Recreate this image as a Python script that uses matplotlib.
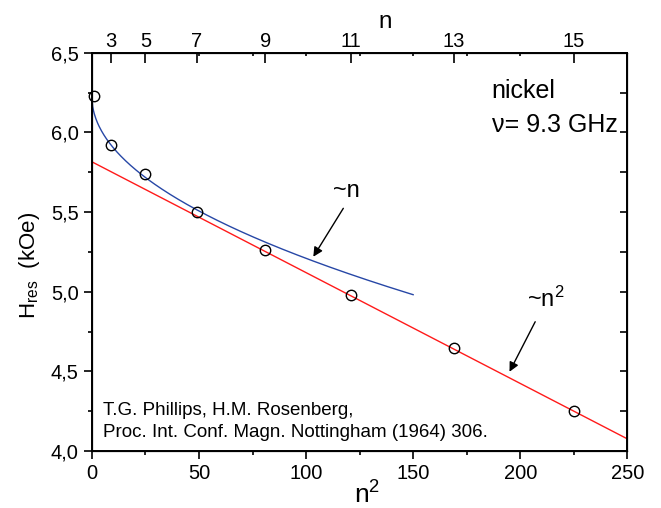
import matplotlib
matplotlib.use("Agg")
import matplotlib.pyplot as plt
import numpy as np

plt.rcParams["font.family"] = ["Liberation Sans", "DejaVu Sans"]
plt.rcParams["mathtext.fontset"] = "custom"
plt.rcParams["mathtext.rm"] = "Liberation Sans"
plt.rcParams["mathtext.it"] = "Liberation Sans"

# measured resonance field vs n^2 (odd n)
n_vals = [1, 3, 5, 7, 9, 11, 13, 15]
n_sq = [1, 9, 25, 49, 81, 121, 169, 225]
h_res = [6.23, 5.92, 5.74, 5.50, 5.26, 4.98, 4.65, 4.25]

# fit ~n^2 : H = a + b * n^2
lin_a, lin_b = 5.816, -0.006956
lin_x = [0, 250]
# fit ~n : H = a + b * n  (n = sqrt(n^2)), drawn up to n^2 = 150
sq_a, sq_b = 6.225, -0.1015
sq_xmax = 150

top_ticks_n = [3, 5, 7, 9, 11, 13, 15]

fig = plt.figure(figsize=(6.61, 5.08), dpi=100)
ax = fig.add_axes([0.139, 0.112, 0.810, 0.784])

lx = np.array(lin_x, dtype=float)
ax.plot(lx, lin_a + lin_b * lx, color="#ff1a1a", lw=1.0, zorder=2)
bx = np.linspace(0, sq_xmax, 400)
ax.plot(bx, sq_a + sq_b * np.sqrt(bx), color="#2747a6", lw=1.0, zorder=2)
ax.plot(n_sq, h_res, "o", mfc="none", mec="black", ms=7.5, mew=1.0,
        zorder=3, clip_on=False)

ax.set_xlim(0, 250)
ax.set_ylim(4.0, 6.5)
ax.set_xticks(np.arange(0, 251, 50))
ax.set_xticks(np.arange(25, 250, 50), minor=True)
ax.set_yticks(np.arange(4.0, 6.51, 0.5))
ax.set_yticks(np.arange(4.25, 6.5, 0.5), minor=True)
ax.set_yticklabels([("%.1f" % v).replace(".", ",") for v in np.arange(4.0, 6.51, 0.5)])
ax.tick_params(axis="both", which="major", direction="out", length=6, width=1.2,
               labelsize=14.5, top=False, right=False)
ax.tick_params(axis="both", which="minor", direction="out", length=3, width=1.2,
               top=False, right=False)
for s in ax.spines.values():
    s.set_linewidth(1.4)

ax.set_xlabel("n$^2$", fontsize=19)
ax.xaxis.set_label_coords(0.514, -0.077)
ax.set_ylabel("H$_{\\rm res}$  (kOe)", fontsize=16)
ax.yaxis.set_label_coords(-0.093, 0.467)

# top axis in n
axt = ax.twiny()
axt.set_xlim(ax.get_xlim())
axt.set_xticks([n * n for n in top_ticks_n])
axt.set_xticklabels([str(n) for n in top_ticks_n])
axt.set_xticks(np.arange(25, 250, 25), minor=True)
axt.tick_params(axis="x", which="major", direction="in", length=7, width=1.2,
                labelsize=14.5, pad=1.5)
axt.tick_params(axis="x", which="minor", direction="in", length=2, width=1.2)
axt.set_xlabel("n", fontsize=17.5)
axt.xaxis.set_label_coords(0.548, 1.063)

# right axis ticks pointing inward
axr = ax.twinx()
axr.set_ylim(ax.get_ylim())
axr.set_yticks(np.arange(4.0, 6.51, 0.25))
axr.set_yticklabels([])
axr.tick_params(axis="y", direction="in", length=5, width=1.2)

ax.text(186.7, 6.217, "nickel", fontsize=18)
ax.text(186.7, 6.004, "\u03bd= 9.3 GHz", fontsize=18)

ax.text(112.6, 5.595, "~n", fontsize=17)
ax.annotate("", xy=(103.4, 5.220), xytext=(117.4, 5.524),
            arrowprops=dict(arrowstyle="-|>", color="black", lw=1.0,
                            mutation_scale=14, shrinkA=0, shrinkB=0))
ax.text(203.3, 4.905, "~n$^2$", fontsize=17)
ax.annotate("", xy=(195.0, 4.498), xytext=(207.0, 4.812),
            arrowprops=dict(arrowstyle="-|>", color="black", lw=1.0,
                            mutation_scale=14, shrinkA=0, shrinkB=0))

ax.text(5.0, 4.226, "T.G. Phillips, H.M. Rosenberg,", fontsize=13.5)
ax.text(5.0, 4.090, "Proc. Int. Conf. Magn. Nottingham (1964) 306.", fontsize=13.5)

plt.savefig("out.png", dpi=100)
